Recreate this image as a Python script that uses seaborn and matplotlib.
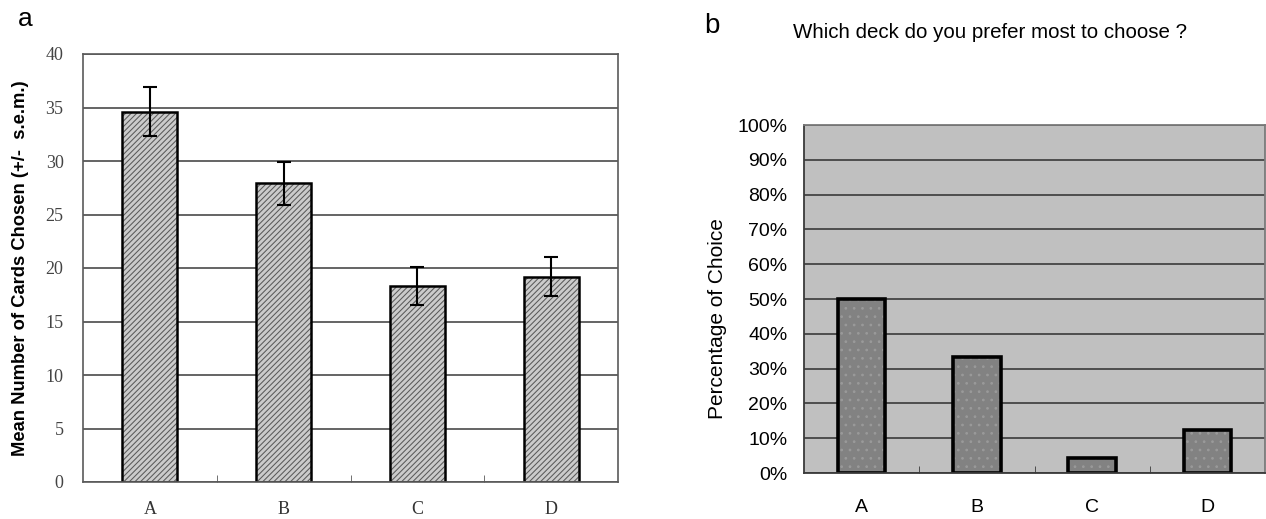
import matplotlib
matplotlib.use('Agg')
import matplotlib.pyplot as plt
import seaborn as sns
import numpy as np
import pandas as pd
from matplotlib.ticker import PercentFormatter, MultipleLocator, FixedLocator

# ---- data ----
decks = ['A', 'B', 'C', 'D']
mean_cards = [34.6, 27.9, 18.3, 19.2]
sem_cards = [2.3, 2.05, 1.75, 1.8]
pct_choice = [50.0, 33.3, 4.2, 12.5]

sns.set_style('white')
plt.rcParams['font.family'] = ['Liberation Sans', 'DejaVu Sans']
plt.rcParams['hatch.linewidth'] = 0.75
plt.rcParams['text.color'] = 'black'
plt.rcParams['axes.labelcolor'] = 'black'

df = pd.DataFrame({'deck': decks, 'mean': mean_cards, 'sem': sem_cards, 'pct': pct_choice})

fig = plt.figure(figsize=(12.66, 5.19), dpi=100)
ax1 = fig.add_axes([83/1266, 1-482/519, 535/1266, 428/519])
ax2 = fig.add_axes([804/1266, 1-473/519, 461/1266, 348/519])

# ---------------- panel a ----------------
ax1.set_axisbelow(True)
ax1.yaxis.grid(True, color='#4a4a4a', lw=1.2)
sns.barplot(data=df, x='deck', y='mean', ax=ax1, color='#cbcbcb', saturation=1,
            width=0.41, errorbar=None, hatch='//////', edgecolor='#5a5a5a', linewidth=0)
sns.barplot(data=df, x='deck', y='mean', ax=ax1, color='black', fill=False,
            width=0.41, errorbar=None, linewidth=1.8)
ax1.errorbar(x=np.arange(len(decks)), y=df['mean'], yerr=df['sem'], fmt='none',
             ecolor='black', elinewidth=1.5, capsize=5, capthick=1.5, zorder=5)
ax1.set_ylim(0, 40)
ax1.set_xlim(-0.5, 3.5)
ax1.yaxis.set_major_locator(MultipleLocator(5))
for s in ax1.spines.values():
    s.set_color('#5a5a5a')
    s.set_linewidth(1.2)
ax1.tick_params(axis='y', length=0, pad=14, labelsize=13, labelcolor='#444444')
ax1.tick_params(axis='x', which='major', length=0, pad=14, labelsize=13, labelcolor='#333333')
ax1.xaxis.set_minor_locator(FixedLocator([0.5, 1.5, 2.5]))
ax1.tick_params(axis='x', which='minor', direction='in', length=5, color='#5a5a5a', bottom=True)
for lab in ax1.get_xticklabels() + ax1.get_yticklabels():
    lab.set_fontfamily(['Liberation Serif', 'DejaVu Serif'])
ax1.set_xlabel('')
ax1.set_ylabel('Mean Number of Cards Chosen (+/-  s.e.m.)', fontsize=13.2,
               fontweight='bold', labelpad=12)

# ---------------- panel b ----------------
ax2.set_facecolor('#c0c0c0')
ax2.set_axisbelow(True)
ax2.yaxis.grid(True, color='#3a3a3a', lw=1.2)
sns.barplot(data=df, x='deck', y='pct', ax=ax2, color='#828282', saturation=1,
            width=0.41, errorbar=None, hatch='..', edgecolor='#9a9a9a', linewidth=0)
sns.barplot(data=df, x='deck', y='pct', ax=ax2, color='black', fill=False,
            width=0.41, errorbar=None, linewidth=2.6)
ax2.set_ylim(0, 100)
ax2.set_xlim(-0.5, 3.5)
ax2.yaxis.set_major_locator(MultipleLocator(10))
ax2.yaxis.set_major_formatter(PercentFormatter(100, decimals=0))
for k, s in ax2.spines.items():
    s.set_color('#3a3a3a' if k in ('left', 'bottom') else '#7a7a7a')
    s.set_linewidth(1.3)
ax2.tick_params(axis='y', length=0, pad=12, labelsize=14, labelcolor='black')
ax2.tick_params(axis='x', which='major', length=0, pad=19, labelsize=14, labelcolor='black')
ax2.xaxis.set_minor_locator(FixedLocator([0.5, 1.5, 2.5]))
ax2.tick_params(axis='x', which='minor', direction='in', length=5, color='#3a3a3a', bottom=True)
ax2.set_xlabel('')
ax2.set_ylabel('Percentage of Choice', fontsize=15)
ax2.yaxis.set_label_coords(-0.167, 0.445)

# ---------------- panel letters & title ----------------
fig.text(25/1266, 1-19/519, 'a', fontsize=19, ha='center', va='center')
fig.text(712/1266, 1-26/519, 'b', fontsize=20, ha='center', va='center')
fig.text(990/1266, 1-33/519, 'Which deck do you prefer most to choose ?', fontsize=14.8,
         ha='center', va='center')

fig.savefig('out.png', dpi=100)
